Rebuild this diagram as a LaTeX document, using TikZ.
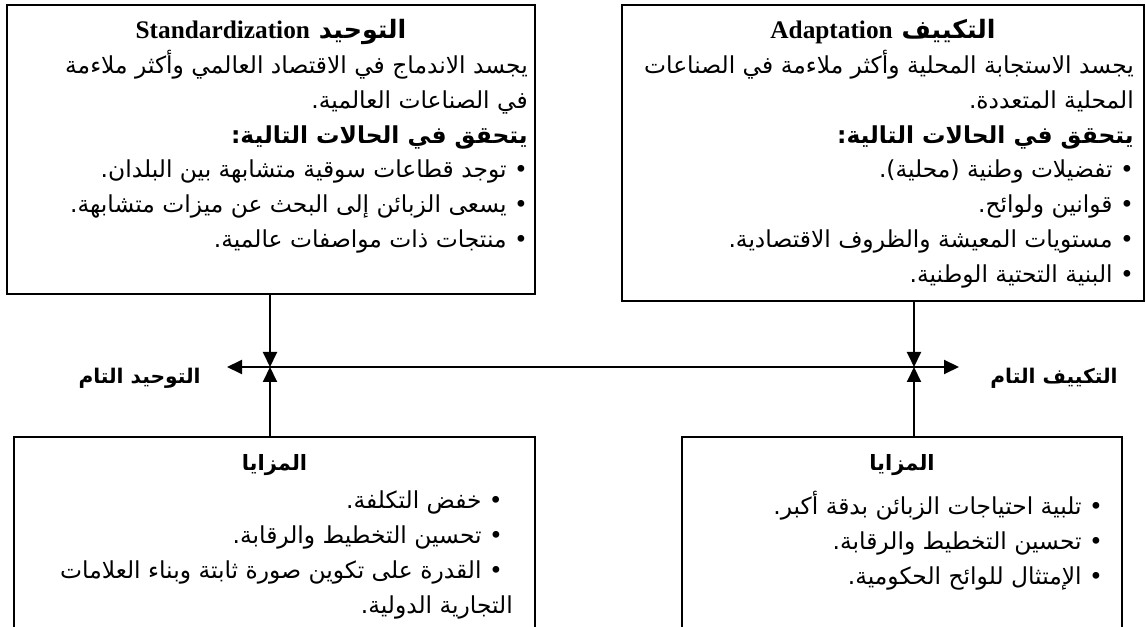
\documentclass[tikz,border=0pt]{standalone}
\usepackage{fontspec}
\usetikzlibrary{positioning, arrows.meta}
\TeXXeTstate=1
\newfontfamily\arabicfont[Script=Arabic]{DejaVu Sans}
\newfontfamily\latinfont{Liberation Serif}
\newcommand{\rline}[1]{\beginR#1\endR}

\begin{document}
\begin{tikzpicture}[
    every node/.style={font=\arabicfont\fontsize{13.3}{19.8}\selectfont},
    frame/.style={draw, line width=1.3pt, inner sep=0pt},
    head/.style={font=\arabicfont\bfseries\fontsize{14.4}{19.8}\selectfont, inner sep=0pt},
    subhead/.style={font=\arabicfont\bfseries\fontsize{12}{19.8}\selectfont, inner sep=0pt},
    body/.style={align=right, inner sep=0pt},
    arr/.style={line width=1.1pt, -{Triangle[length=0.3cm, width=0.28cm]}},
  ]
  \useasboundingbox (0,0) rectangle (22.92,-12.54);
  \clip (0,0) rectangle (22.92,-12.54);

  % Boxes
  \node[frame, minimum width=10.56cm, minimum height=5.78cm] (stdbox) at (5.42,-2.99) {};
  \node[frame, minimum width=10.44cm, minimum height=5.92cm] (adabox) at (17.66,-3.06) {};
  \node[frame, minimum width=10.42cm, minimum height=4.4cm] (stdadv) at (5.49,-10.94) {};
  \node[frame, minimum width=8.80cm, minimum height=4.4cm] (adaadv) at (18.04,-10.94) {};

  % Standardization
  \node[head, below=0.30cm of stdbox.north] (stdtitle)
    {\rline{التوحيد \beginL{\latinfont\bfseries Standardization}\endL}};
  \node[body, below left=0.92cm and 0.16cm of stdbox.north east] (stdtext) {%
    \rline{يجسد الاندماج في الاقتصاد العالمي وأكثر ملاءمة}\\
    \rline{في الصناعات العالمية.}\\
    \rline{\bfseries يتحقق في الحالات التالية:}\\
    \rline{• توجد قطاعات سوقية متشابهة بين البلدان.}\\
    \rline{• يسعى الزبائن إلى البحث عن ميزات متشابهة.}\\
    \rline{• منتجات ذات مواصفات عالمية.}};

  % Adaptation
  \node[head, below=0.30cm of adabox.north] (adatitle)
    {\rline{التكييف \beginL{\latinfont\bfseries Adaptation}\endL}};
  \node[body, below left=0.92cm and 0.22cm of adabox.north east] (adatext) {%
    \rline{يجسد الاستجابة المحلية وأكثر ملاءمة في الصناعات}\\
    \rline{المحلية المتعددة.}\\
    \rline{\bfseries يتحقق في الحالات التالية:}\\
    \rline{• تفضيلات وطنية (محلية).}\\
    \rline{• قوانين ولوائح.}\\
    \rline{• مستويات المعيشة والظروف الاقتصادية.}\\
    \rline{• البنية التحتية الوطنية.}};

  % Advantages
  \node[subhead, below=0.36cm of stdadv.north] (stdadvtitle) {\rline{المزايا}};
  \node[body, below left=1.10cm and 0.46cm of stdadv.north east] (stdadvtext) {%
    \rline{• خفض التكلفة.}\kern0.2cm\\
    \rline{• تحسين التخطيط والرقابة.}\kern0.2cm\\
    \rline{• القدرة على تكوين صورة ثابتة وبناء العلامات}\kern0.2cm\\
    \rline{التجارية الدولية.}};
  \node[subhead, below=0.36cm of adaadv.north] (adaadvtitle) {\rline{المزايا}};
  \node[body, below left=1.10cm and 0.4cm of adaadv.north east] (adaadvtext) {%
    \rline{• تلبية احتياجات الزبائن بدقة أكبر.}\\
    \rline{• تحسين التخطيط والرقابة.}\\
    \rline{• الإمتثال للوائح الحكومية.}};

  % Axis
  \coordinate (jl) at (5.40,-7.34);
  \coordinate (jr) at (18.28,-7.34);
  \coordinate (lend) at (4.54,-7.34);
  \coordinate (rend) at (19.18,-7.34);
  \node[subhead, font=\arabicfont\bfseries\fontsize{11.5}{14}\selectfont, left=0.52cm of lend, yshift=-0.22cm] (stdfull) {\rline{التوحيد التام}};
  \node[subhead, font=\arabicfont\bfseries\fontsize{11.5}{14}\selectfont, right=0.62cm of rend, yshift=-0.22cm] (adafull) {\rline{التكييف التام}};

  \draw[line width=1.1pt, {Triangle[length=0.3cm, width=0.28cm]}-{Triangle[length=0.3cm, width=0.28cm]}] (lend) -- (rend);
  \draw[arr] (stdbox.south -| jl) -- (jl);
  \draw[arr] (stdadv.north -| jl) -- (jl);
  \draw[arr] (adabox.south -| jr) -- (jr);
  \draw[arr] (adaadv.north -| jr) -- (jr);
\end{tikzpicture}
\end{document}
